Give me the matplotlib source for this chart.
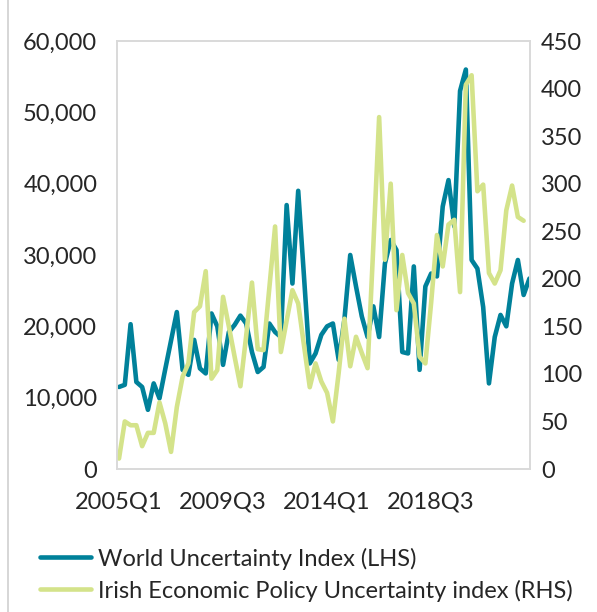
import matplotlib
matplotlib.use('Agg')
import matplotlib.pyplot as plt
from matplotlib.lines import Line2D

plt.rcParams['font.family'] = ['Lato', 'DejaVu Sans']

# Quarterly categories 2005Q1 .. 2022Q4
quarters = [f"{y}Q{q}" for y in range(2005, 2023) for q in range(1, 5)]
tick_labels = ["2005Q1", "2009Q3", "2014Q1", "2018Q3"]

world_uncertainty = [
    11500, 11800, 20300, 12200, 11500, 8300, 12000, 9900, 14000, 18000,
    22000, 13900, 13200, 18100, 14100, 13400, 21800, 20000, 14600, 19200,
    20200, 21500, 20400, 16400, 13600, 14300, 20400, 19200, 18500, 37000,
    26000, 39000, 27000, 14800, 16200, 18800, 20000, 20400, 15300, 21000,
    30000, 25600, 21400, 18500, 22800, 18500, 28800, 32100, 30700, 16400,
    16200, 28400, 13900, 25600, 27400, 27000, 36800, 40500, 34000, 53000,
    56000, 29300, 28100, 22700, 12000, 18500, 21600, 20000, 26000, 29300,
    24400, 26700,
]

irish_epu = [
    11, 50, 46, 46, 24, 38, 38, 70, 48, 18,
    65, 97, 111, 165, 171, 208, 95, 104, 181, 150,
    118, 87, 140, 196, 126, 125, 190, 255, 123, 156,
    188, 174, 130, 86, 111, 92, 80, 50, 101, 158,
    108, 139, 122, 106, 235, 370, 220, 300, 167, 225,
    185, 174, 118, 111, 175, 246, 213, 257, 262, 186,
    404, 414, 292, 299, 206, 195, 209, 272, 298, 265,
    261,
]

left_ticks = [0, 10000, 20000, 30000, 40000, 50000, 60000]
right_ticks = [0, 50, 100, 150, 200, 250, 300, 350, 400, 450]

teal = '#00819A'
lime = '#D4E38A'
txt = '#262626'
border = '#D9D9D9'

W, H = 597, 612
fig = plt.figure(figsize=(W / 100, H / 100), dpi=100)
ax = fig.add_axes([116.7 / W, 1 - 469 / H, (530 - 116.7) / W, (469 - 41) / H])
ax2 = ax.twinx()

x_w = list(range(len(world_uncertainty)))
x_i = list(range(len(irish_epu)))

ax.plot(x_w, world_uncertainty, color=teal, lw=3.3, solid_joinstyle='round',
        solid_capstyle='round', label='World Uncertainty Index (LHS)')
ax2.plot(x_i, irish_epu, color=lime, lw=3.3, solid_joinstyle='round',
         solid_capstyle='round', label='Irish Economic Policy Uncertainty index (RHS)')

ax.set_xlim(-0.4, len(quarters) - 0.9)
ax.set_ylim(0, 60000)
ax2.set_ylim(0, 450)

ax.set_yticks(left_ticks)
ax.set_yticklabels([f"{v:,}" for v in left_ticks])
ax2.set_yticks(right_ticks)
ax2.set_yticklabels([str(v) for v in right_ticks])

tick_pos = [quarters.index(t) for t in tick_labels]
ax.set_xticks(tick_pos)
ax.set_xticklabels(tick_labels)

ax.tick_params(axis='y', length=0, pad=14, labelsize=17, colors=txt)
ax2.tick_params(axis='y', length=0, pad=8, labelsize=17, colors=txt)
ax.tick_params(axis='x', length=0, pad=16, labelsize=17, colors=txt)

for a in (ax, ax2):
    for s in a.spines.values():
        s.set_color(border)
        s.set_linewidth(1.2)

# thin grey frame line at the far left of the picture
fig.add_artist(Line2D([7.5 / W, 7.5 / W], [0, 1], color='#CFCFCF', lw=1.2,
                      transform=fig.transFigure))

handles = [Line2D([], [], color=teal, lw=3.3, solid_capstyle='round'),
           Line2D([], [], color=lime, lw=3.3, solid_capstyle='round')]
labels = ['World Uncertainty Index (LHS)',
          'Irish Economic Policy Uncertainty index (RHS)']
fig.legend(handles, labels, loc='upper left',
           bbox_to_anchor=(31 / W, 1 - 538 / H), frameon=False,
           fontsize=17, handlelength=2.15, handletextpad=0.3,
           labelspacing=0.42, borderaxespad=0, labelcolor=txt)

fig.savefig('out.png', dpi=100)
